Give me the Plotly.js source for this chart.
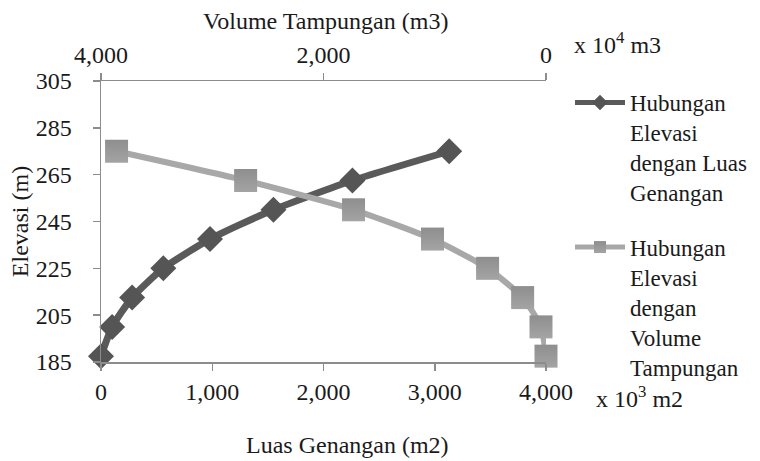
<!DOCTYPE html>
<html>
<head>
<meta charset="utf-8">
<script src="https://cdn.plot.ly/plotly-3.0.1.min.js"></script>
<style>
html,body{margin:0;padding:0;background:#fff;}
#chart{width:760px;height:461px;}
</style>
</head>
<body>
<div id="chart"></div>
<script>
// Data
var elevasi = [187.5, 200, 212.5, 225, 237.5, 250, 262.5, 275];      // m
var luasGenangan = [0, 100, 280, 560, 980, 1550, 2260, 3130];        // x 10^3 m2
var volumeTampungan = [0, 45, 210, 525, 1020, 1730, 2700, 3860];     // x 10^4 m3

var seriesNames = [
  'Hubungan<br>Elevasi<br>dengan Luas<br>Genangan',
  'Hubungan<br>Elevasi<br>dengan<br>Volume<br>Tampungan'
];

var FONT = 'Liberation Serif';
var FS = 24;
var TXT = '#1a1a1a';

var traces = [
  {
    x: luasGenangan, y: elevasi, xaxis: 'x', yaxis: 'y',
    type: 'scatter', mode: 'lines+markers', name: seriesNames[0],
    legendgroup: 'a', cliponaxis: false,
    line: {color: '#5a5a5a', width: 7, shape: 'spline', smoothing: 0.6},
    marker: {symbol: 'diamond', size: 20, color: '#555555', line: {width: 0}}
  },
  {
    x: volumeTampungan, y: elevasi, xaxis: 'x2', yaxis: 'y',
    type: 'scatter', mode: 'lines+markers', name: seriesNames[1],
    legendgroup: 'b', cliponaxis: false,
    line: {color: '#a8a8a8', width: 6, shape: 'spline', smoothing: 0.6},
    marker: {symbol: 'square', size: 23, color: '#8e8e8e',
             gradient: {type: 'vertical', color: '#a4a4a4'}, line: {width: 0}}
  }
];

var axisCommon = {
  showgrid: false, zeroline: false, showline: true,
  linecolor: '#8c8c8c', linewidth: 1.5,
  ticks: 'outside', ticklen: 7, tickwidth: 1.5, tickcolor: '#8c8c8c',
  tickfont: {family: FONT, size: FS, color: TXT},
  tickformat: ',d'
};

var layout = {
  width: 760, height: 461,
  margin: {l: 101, r: 214, t: 81, b: 99, pad: 0, autoexpand: false},
  paper_bgcolor: '#ffffff', plot_bgcolor: '#ffffff',
  font: {family: FONT, size: FS, color: TXT},
  showlegend: true,
  legend: {
    x: (570 - 101) / 445, xanchor: 'left', y: 1.0, yanchor: 'top',
    font: {family: FONT, size: 23, color: TXT},
    valign: 'top', tracegroupgap: 22, itemwidth: 50, maxheight: 400,
    itemsizing: 'constant',
    bgcolor: 'rgba(0,0,0,0)', borderwidth: 0
  },
  xaxis: Object.assign({}, axisCommon, {
    range: [0, 4000], tick0: 0, dtick: 1000, anchor: 'y', side: 'bottom',
    ticklabelstandoff: 1
  }),
  xaxis2: Object.assign({}, axisCommon, {
    range: [4000, 0], tick0: 0, dtick: 2000, overlaying: 'x', anchor: 'y', side: 'top',
    ticklabelstandoff: 0
  }),
  yaxis: Object.assign({}, axisCommon, {
    range: [185, 305], tick0: 185, dtick: 20,
    ticklabelstandoff: 16,
    title: {text: 'Elevasi (m)', font: {family: FONT, size: FS, color: TXT}, standoff: 0}
  }),
  annotations: [
    {text: 'Volume Tampungan (m3)', xref: 'paper', yref: 'paper', x: (325 - 101) / 445, y: (362 - 21) / 281,
     xanchor: 'center', yanchor: 'middle', showarrow: false, font: {family: FONT, size: FS, color: TXT}},
    {text: 'Luas Genangan (m2)', xref: 'paper', yref: 'paper', x: (347 - 101) / 445, y: -(445 - 362) / 281,
     xanchor: 'center', yanchor: 'middle', showarrow: false, font: {family: FONT, size: FS, color: TXT}},
    {text: 'x 10<sup>4</sup> m3', xref: 'paper', yref: 'paper', x: (572 - 101) / 445, y: (362 - 43) / 281,
     xanchor: 'left', yanchor: 'middle', showarrow: false, font: {family: FONT, size: FS, color: TXT}},
    {text: 'x 10<sup>3</sup> m2', xref: 'paper', yref: 'paper', x: (594 - 101) / 445, y: -(397 - 362) / 281,
     xanchor: 'left', yanchor: 'middle', showarrow: false, font: {family: FONT, size: FS, color: TXT}}
  ]
};

Plotly.newPlot('chart', traces, layout, {displayModeBar: false, staticPlot: true});
</script>
</body>
</html>
